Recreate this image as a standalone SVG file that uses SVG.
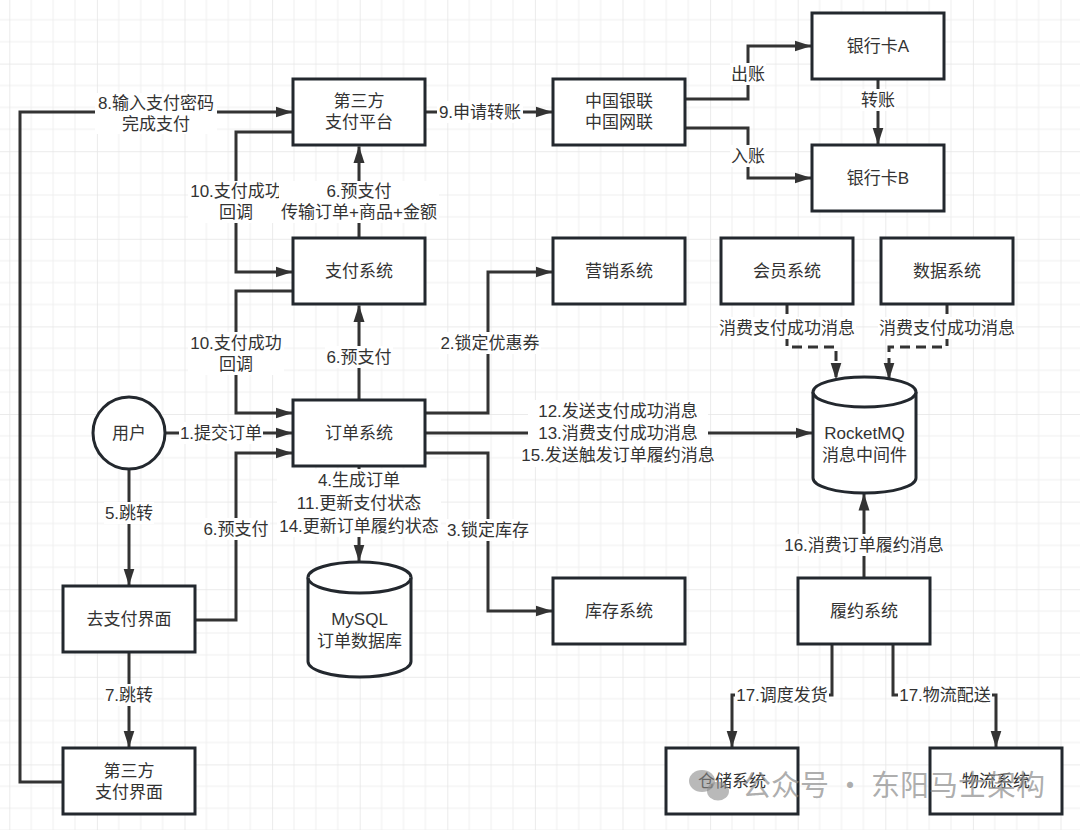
<svg xmlns="http://www.w3.org/2000/svg" width="1080" height="830" viewBox="0 0 1080 830">
<style>
.t{font-family:"Liberation Sans","Noto Sans CJK SC",sans-serif;font-size:17px;fill:#333;text-anchor:middle;dominant-baseline:central}
.box{fill:#fff;stroke:#23282e;stroke-width:3}
.c{fill:none;stroke:#333;stroke-width:3;marker-end:url(#arr)}
.d{stroke-dasharray:10 6}
.lb{fill:#fff}
.wm{font-family:"Noto Sans CJK SC",sans-serif;font-size:29px;fill:#8a8a8a;fill-opacity:0.7}
</style>
<defs>
<marker id="arr" markerUnits="userSpaceOnUse" markerWidth="17" markerHeight="12" viewBox="0 0 17 12" refX="16.5" refY="6" orient="auto">
<path d="M0,0.5 L17,6 L0,11.5 Z" fill="#333"/>
</marker>
<pattern id="grid" patternUnits="userSpaceOnUse" x="9.3" y="-24" width="87.6" height="87.6">
<g fill="#efefef">
<rect x="21.4" y="0" width="1" height="87.6"/>
<rect x="43.3" y="0" width="1" height="87.6"/>
<rect x="65.2" y="0" width="1" height="87.6"/>
<rect x="0" y="21.4" width="87.6" height="1"/>
<rect x="0" y="43.3" width="87.6" height="1"/>
<rect x="0" y="65.2" width="87.6" height="1"/>
</g>
<g fill="#e6e6e6">
<rect x="-0.7" y="0" width="1.5" height="87.6"/>
<rect x="0" y="-0.7" width="87.6" height="1.5"/>
</g>
</pattern>
</defs>
<rect width="1080" height="830" fill="#fff"/>
<rect width="1080" height="830" fill="url(#grid)"/>

<g id="connectors">
<path class="c" d="M165,433 H292"/>
<path class="c" d="M425,413 H488 V272 H552"/>
<path class="c" d="M425,453 H488 V611 H552"/>
<path class="c" d="M359,466 V561"/>
<path class="c" d="M129,469 V585"/>
<path class="c" d="M196,620 H236 V453 H292"/>
<path class="c" d="M359,400 V305.5"/>
<path class="c" d="M359,238 V146.5"/>
<path class="c" d="M129,652 V747"/>
<path class="c" d="M63,782 H20 V112 H292"/>
<path class="c" d="M425,112 H552"/>
<path class="c" d="M293,132 H236 V272 H292"/>
<path class="c" d="M293,291 H236 V413 H292"/>
<path class="c" d="M685,99 H748 V46 H811"/>
<path class="c" d="M685,128 H748 V178 H811"/>
<path class="c" d="M878,79 V144"/>
<path class="c" d="M425,433 H812"/>
<path class="c d" d="M787,304 V347 H836 V379"/>
<path class="c d" d="M947,304 V347 H889 V379"/>
<path class="c" d="M864,578 V494"/>
<path class="c" d="M832,644 V695 H732 V747"/>
<path class="c" d="M893,644 V695 H996 V747"/>

<g id="edge-labels">
<rect class="lb" x="95" y="93" width="122" height="41"/>
<text class="t" x="156" y="103">8.输入支付密码</text>
<text class="t" x="156" y="124">完成支付</text>

<rect class="lb" x="188" y="181" width="96" height="42"/>
<text class="t" x="236" y="191">10.支付成功</text>
<text class="t" x="236" y="212">回调</text>

<rect class="lb" x="279" y="181" width="160" height="42"/>
<text class="t" x="359" y="191">6.预支付</text>
<text class="t" x="359" y="212">传输订单+商品+金额</text>

<rect class="lb" x="437" y="101" width="86" height="22"/>
<text class="t" x="480" y="112">9.申请转账</text>

<rect class="lb" x="730" y="63" width="36" height="22"/>
<text class="t" x="748" y="74">出账</text>
<rect class="lb" x="730" y="145" width="36" height="22"/>
<text class="t" x="748" y="156">入账</text>
<rect class="lb" x="860" y="89" width="36" height="22"/>
<text class="t" x="878" y="100">转账</text>

<rect class="lb" x="188" y="332" width="96" height="43"/>
<text class="t" x="236" y="343">10.支付成功</text>
<text class="t" x="236" y="364">回调</text>

<rect class="lb" x="325" y="346" width="68" height="22"/>
<text class="t" x="359" y="357">6.预支付</text>

<rect class="lb" x="439" y="332" width="102" height="22"/>
<text class="t" x="490" y="343">2.锁定优惠券</text>

<rect class="lb" x="179" y="422" width="84" height="22"/>
<text class="t" x="221" y="433">1.提交订单</text>

<rect class="lb" x="104" y="502" width="50" height="22"/>
<text class="t" x="129" y="513">5.跳转</text>

<rect class="lb" x="202" y="518" width="68" height="22"/>
<text class="t" x="236" y="529">6.预支付</text>

<rect class="lb" x="277" y="469" width="164" height="68"/>
<text class="t" x="359" y="480">4.生成订单</text>
<text class="t" x="359" y="503">11.更新支付状态</text>
<text class="t" x="359" y="526">14.更新订单履约状态</text>

<rect class="lb" x="446" y="519" width="84" height="22"/>
<text class="t" x="488" y="530">3.锁定库存</text>

<rect class="lb" x="528" y="400" width="180" height="67"/>
<text class="t" x="618" y="411">12.发送支付成功消息</text>
<text class="t" x="618" y="433">13.消费支付成功消息</text>
<text class="t" x="618" y="455">15.发送触发订单履约消息</text>

<rect class="lb" x="718" y="317" width="138" height="22"/>
<text class="t" x="787" y="328">消费支付成功消息</text>
<rect class="lb" x="878" y="317" width="138" height="22"/>
<text class="t" x="947" y="328">消费支付成功消息</text>

<rect class="lb" x="791" y="534" width="146" height="22"/>
<text class="t" x="864" y="545">16.消费订单履约消息</text>

<rect class="lb" x="104" y="684" width="50" height="22"/>
<text class="t" x="129" y="695">7.跳转</text>

<rect class="lb" x="735" y="684" width="94" height="22"/>
<text class="t" x="782" y="695">17.调度发货</text>
<rect class="lb" x="898" y="684" width="94" height="22"/>
<text class="t" x="945" y="695">17.物流配送</text>
</g>
</g>

<g id="n-third-platform">
<rect class="box" x="293" y="79" width="132" height="66"/>
<text class="t" x="359" y="101.5">第三方</text>
<text class="t" x="359" y="122.5">支付平台</text>
</g>
<g id="n-unionpay">
<rect class="box" x="553" y="79" width="132" height="66"/>
<text class="t" x="619" y="101.5">中国银联</text>
<text class="t" x="619" y="122.5">中国网联</text>
</g>
<g id="n-card-a">
<rect class="box" x="812" y="13" width="132" height="66"/>
<text class="t" x="878" y="46">银行卡A</text>
</g>
<g id="n-card-b">
<rect class="box" x="812" y="145" width="132" height="66"/>
<text class="t" x="878" y="178">银行卡B</text>
</g>
<g id="n-paysys">
<rect class="box" x="293" y="238" width="132" height="66"/>
<text class="t" x="359" y="271">支付系统</text>
</g>
<g id="n-marketing">
<rect class="box" x="553" y="238" width="132" height="66"/>
<text class="t" x="619" y="271">营销系统</text>
</g>
<g id="n-member">
<rect class="box" x="721" y="238" width="132" height="66"/>
<text class="t" x="787" y="271">会员系统</text>
</g>
<g id="n-data">
<rect class="box" x="881" y="238" width="132" height="66"/>
<text class="t" x="947" y="271">数据系统</text>
</g>
<g id="n-user">
<circle class="box" cx="129" cy="433" r="36"/>
<text class="t" x="129" y="433">用户</text>
</g>
<g id="n-order">
<rect class="box" x="293" y="400" width="132" height="66"/>
<text class="t" x="359" y="433">订单系统</text>
</g>
<g id="n-mq">
<path class="box" d="M813,392 V478 A51.5,15 0 0 0 916,478 V392 A51.5,15 0 0 0 813,392 Z"/>
<path class="box" d="M813,392 A51.5,15 0 0 0 916,392"/>
<text class="t" x="864.5" y="433">RocketMQ</text>
<text class="t" x="864.5" y="455">消息中间件</text>
</g>
<g id="n-mysql">
<path class="box" d="M308,577.5 V661.5 A51.5,15.5 0 0 0 411,661.5 V577.5 A51.5,15.5 0 0 0 308,577.5 Z"/>
<path class="box" d="M308,577.5 A51.5,15.5 0 0 0 411,577.5"/>
<text class="t" x="359.5" y="619">MySQL</text>
<text class="t" x="359.5" y="641">订单数据库</text>
</g>
<g id="n-inventory">
<rect class="box" x="553" y="578" width="132" height="66"/>
<text class="t" x="619" y="611">库存系统</text>
</g>
<g id="n-fulfill">
<rect class="box" x="798" y="578" width="132" height="66"/>
<text class="t" x="864" y="611">履约系统</text>
</g>
<g id="n-warehouse">
<rect class="box" x="666" y="748" width="132" height="66"/>
<text class="t" x="732" y="781">仓储系统</text>
</g>
<g id="n-logistics">
<rect class="box" x="930" y="748" width="132" height="66"/>
<text class="t" x="996" y="781">物流系统</text>
</g>
<g id="n-topay">
<rect class="box" x="63" y="586" width="132" height="66"/>
<text class="t" x="129" y="619">去支付界面</text>
</g>
<g id="n-third-ui">
<rect class="box" x="63" y="748" width="132" height="66"/>
<text class="t" x="129" y="771">第三方</text>
<text class="t" x="129" y="792">支付界面</text>
</g>

<g id="watermark">
<ellipse cx="702" cy="781" rx="13" ry="11" fill="#8a8a8a" fill-opacity="0.6"/>
<ellipse cx="718" cy="791" rx="11" ry="9.5" fill="#8a8a8a" fill-opacity="0.6"/>
<text class="wm" x="742" y="796">公众号 · 东阳马士架构</text>
</g>
</svg>
